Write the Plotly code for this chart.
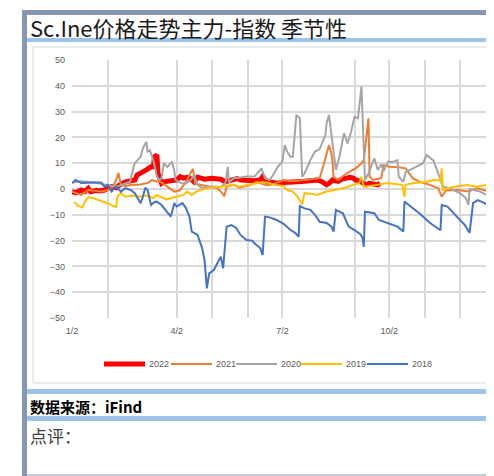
import pandas as pd
import plotly.graph_objects as go

# seasonal chart: day of year (shared x) and value per year
SERIES_NAMES = ["2022", "2021", "2020", "2019", "2018"]
SERIES_COLORS = ["#ff0000", "#ed7d31", "#a5a5a5", "#ffc000", "#4472c4"]
SERIES_WIDTHS = [5, 2, 2, 2, 2]

DAYS_2022 = [2, 5, 10, 13, 16, 18, 23, 26, 30, 33, 36, 40, 43, 48, 53, 56, 58, 61, 66, 70,
             72, 73, 75, 76, 78, 79, 81, 85, 89, 92, 95, 98, 101, 104, 107, 110, 113, 116, 122, 126,
             130, 134, 140, 144, 147, 155, 159, 164, 166, 169, 173, 178, 184, 190, 196, 202, 208, 213, 217, 221,
             224, 226, 231, 234, 238, 241, 244, 246, 250, 252, 255, 258, 262, 265, 267]
VALS_2022 = [-1, -1.5, -0.4, -1, 0.3, -1, -0.5, -0.8, -0.4, 0, 0.9, 0.5, 1.6, 2.8, 3.0, 3.5, 5.4, 6, 7.4, 8.6,
             8.6, 12.5, 13.2, 6, 4, 2.2, 2.8, 3.2, 3.5, 3.5, 4.8, 4.2, 4.5, 4, 2.8, 4.5, 4.2, 3.8, 4.2, 4.0,
             3.8, 2.8, 3.5, 4, 3.5, 3, 3.2, 3.5, 4.8, 3, 2.5, 2.2, 2.5, 2.5, 2.8, 3, 3.2, 3.5, 2.8, 1.6,
             2.5, 3.5, 3, 3.8, 4.2, 4.5, 4.2, 3.5, 3, 2.2, 1.6, 2.2, 2.0, 1.6, 2.3]

DAYS_2021 = [2, 5, 10, 16, 22, 27, 33, 38, 41, 42, 44, 48, 54, 59, 67, 71, 73, 78, 84, 90,
             95, 98, 101, 104, 106, 108, 113, 121, 127, 131, 133, 135, 141, 146, 155, 161, 164, 170, 175, 184,
             190, 196, 202, 209, 215, 218, 220, 223, 225, 226, 227, 231, 238, 246, 251, 253, 257, 258, 261, 268,
             270, 275, 283, 289, 295, 301, 310, 317, 320, 324, 333, 343, 350, 357, 362]
VALS_2021 = [-1, -1.5, -2.3, -0.4, -0.8, -1, -0.4, 1.5, 4.7, 6.2, 1.6, 1.2, 1.6, 1.6, 2.3, 3.5, 3.0, 2.8, 0.9, -1,
             -0.5, 1.6, 3.5, 6.2, 7.8, 2.0, 1.6, 0.8, 0.3, -1.5, -2.8, 0.9, 1.6, 0.5, 1.5, 2.8, 2.2, 1.5, 1.8, 3.5,
             3.0, 3.2, 3.5, 3.8, 4.2, 8.6, 12, 17, 14, 11, 4.8, 3.5, 6, 8, 10, 11.2, 27.4, 4.8, 3.5, 4.2,
             9.3, 8.6, 8.4, 8, 4.2, 2.8, 1.6, 0.3, -3, -0.5, -0.4, -1, 0.3, -0.5, -1.6]

DAYS_2020 = [4, 9, 16, 22, 27, 33, 37, 42, 47, 52, 55, 56, 59, 61, 63, 66, 67, 69, 72, 73,
             75, 77, 79, 81, 84, 87, 88, 90, 91, 96, 100, 104, 107, 110, 114, 120, 125, 130, 134, 136,
             137, 141, 147, 152, 159, 164, 165, 168, 172, 175, 179, 183, 185, 187, 190, 192, 195, 198, 200, 202,
             207, 211, 215, 220, 221, 223, 226, 229, 232, 236, 239, 242, 245, 248, 251, 252, 254, 257, 262, 265,
             268, 270, 274, 278, 282, 283, 287, 289, 293, 299, 304, 307, 310, 313, 317, 321, 327, 336, 341, 343,
             344, 353, 362, 364]
VALS_2020 = [2.5, 3, 2.8, 2.5, 2, 1.5, 1.0, 1.2, 2.0, 2.8, 8.6, 10, 11.5, 12.5, 15.8, 18.3, 14.5, 15, 11, 9.3,
             5, 3.5, 4.2, 10, 8.5, 10, 10.6, 7, 3.5, 2.2, 2.2, 3.5, 5.4, 1.6, 0.3, 0.9, 0.9, 0.9, 2.3, 8.6,
             2.5, 4.2, 4.5, 4.8, 4.8, 7.4, 8, 4.2, 3.5, 5.4, 8.6, 10.6, 17, 14.5, 12.5, 12.5, 28.7, 27.4, 4.8, 6,
             11.2, 14.5, 15.5, 20.9, 25.5, 28.7, 19, 7.4, 12.5, 21.6, 17.7, 22, 28, 27.4, 39.7, 28, 3.5, 6, 11.9, 7.4,
             9.5, 7, 10.6, 10.5, 11.2, 4.8, 2.8, 6.5, 7.4, 8.6, 10, 13.2, 11.9, 11, 6, 0.9, 0.3, -1.7, -3.6, -6.2,
             0, -1, -3, -3.6]

DAYS_2019 = [4, 7, 11, 13, 16, 20, 26, 33, 37, 40, 41, 44, 48, 54, 60, 66, 72, 75, 83, 88,
             92, 98, 101, 105, 109, 118, 130, 141, 146, 155, 164, 170, 177, 184, 187, 192, 196, 200, 202, 207,
             213, 221, 227, 237, 244, 249, 251, 253, 263, 273, 280, 286, 288, 289, 295, 301, 307, 313, 319, 320,
             321, 327, 334, 342, 350, 359, 364]
VALS_2019 = [-5, -6.5, -7.2, -5, -3.2, -3.5, -4.5, -5.5, -6.5, -7, -3, -1.5, -3, -2.5, -3, -2.5, -3.5, -2.3, -4, -3.5,
             -3, -2.3, -1, -2.3, -1, 0.3, 0.9, 1.6, 0.9, 1.6, 2.5, 2.5, 1.6, 1.2, -0.4, -1, -3, -6, -1.6, -1.8,
             -2.3, -1, -0.4, 0.5, 1.6, 2.3, 4.8, 0.9, 1.5, 2.3, 1.9, 1.6, -3, 1.6, 2.2, 2.5, 2.8, 3.5, 3.2, 8,
             -0.4, 0.5, 1.2, 1.5, 0.9, 1.6, 2.4]

DAYS_2018 = [2, 5, 10, 16, 22, 27, 30, 33, 36, 40, 44, 48, 53, 56, 61, 63, 65, 67, 70, 73,
             75, 79, 84, 87, 90, 92, 97, 100, 103, 105, 110, 114, 116, 118, 120, 124, 127, 130, 132, 134,
             135, 139, 143, 147, 152, 157, 159, 164, 166, 168, 172, 178, 184, 190, 194, 197, 198, 202, 207, 211,
             215, 221, 225, 227, 229, 235, 240, 245, 250, 252, 253, 254, 262, 266, 274, 282, 287, 288, 295, 301,
             310, 316, 319, 320, 325, 333, 340, 344, 347, 351, 357, 364]
VALS_2018 = [2.2, 3.5, 2.3, 2.5, 2.5, 2.5, 0.9, 1.6, -1, 0.9, -1, 0.3, -0.5, -1.6, -5.5, -3, 0.5, -0.4, -6.2, -5,
             -4.9, -6.2, -8.8, -10.7, -5.5, -6.8, -5.5, -7.4, -10.7, -16.5, -17.8, -23, -27.5, -38.5, -32.7, -31.4, -28.8, -26.2, -30.7, -18.5,
             -14.6, -14, -15, -17.8, -19.8, -20, -21, -23, -25.6, -10.7, -11, -12, -13.5, -15.9, -17, -18.5, -6.6, -7.5, -8.1, -10,
             -12.7, -13.2, -14.5, -16.5, -8.1, -9.4, -14.6, -15.9, -17.5, -19, -22.4, -8.8, -9.4, -12, -13.2, -14.6, -16.5, -4.9, -7.4, -9.5,
             -13.2, -15, -16, -6.2, -6.8, -10.7, -14, -17, -5.5, -4.3, -5.5, -7.4]

SERIES_DAYS = [DAYS_2022, DAYS_2021, DAYS_2020, DAYS_2019, DAYS_2018]
SERIES_VALS = [VALS_2022, VALS_2021, VALS_2020, VALS_2019, VALS_2018]

GRID_DATES = ["2022-01-02", "2022-02-02", "2022-04-02", "2022-05-02", "2022-06-02",
              "2022-07-02", "2022-09-02", "2022-10-02", "2022-11-02", "2022-12-02"]
GRID_LABELS = ["1/2", "", "4/2", "", "", "7/2", "", "10/2", "", ""]

TITLE = "Sc.Ine价格走势主力-指数 季节性"
SOURCE = "数据来源：iFind"
COMMENT = "点评："

# page body adds an 8px margin, so the figure is 8px smaller than the window
W, H = 486, 468
ML, MR, MT, MB = 64, 0, 52, 158
BORDER = "#8597b3"
BAND = "#9dc3e6"
TEXT_GREY = "#595959"
CJK = "Noto Sans CJK SC"


def px(x):
    # window pixel -> paper x
    return (x - 8 - ML) / (W - ML - MR)


def py(y):
    # window pixel -> paper y
    return (H - MB - (y - 8)) / (H - MT - MB)


def to_dates(days):
    return pd.Timestamp("2022-01-01") + pd.to_timedelta(pd.Series(days) - 1, unit="D")


fig = go.Figure()
for name, color, width, days, vals in zip(SERIES_NAMES, SERIES_COLORS, SERIES_WIDTHS, SERIES_DAYS, SERIES_VALS):
    fig.add_trace(
        go.Scatter(
            x=to_dates(days),
            y=vals,
            mode="lines",
            name=name,
            line={"color": color, "width": width},
            showlegend=False,
        )
    )

shapes = [
    # table borders and bands
    {"type": "rect", "x0": px(22), "x1": px(500), "y0": py(10), "y1": py(15), "fillcolor": BORDER, "line": {"width": 0}},
    {"type": "rect", "x0": px(22), "x1": px(27), "y0": py(10), "y1": py(480), "fillcolor": BORDER, "line": {"width": 0}},
    {"type": "rect", "x0": px(27), "x1": px(500), "y0": py(38), "y1": py(42), "fillcolor": BAND, "line": {"width": 0}},
    {"type": "rect", "x0": px(27), "x1": px(500), "y0": py(389), "y1": py(394), "fillcolor": BAND, "line": {"width": 0}},
    {"type": "rect", "x0": px(27), "x1": px(500), "y0": py(416), "y1": py(421), "fillcolor": BAND, "line": {"width": 0}},
    {"type": "line", "x0": px(27), "x1": px(500), "y0": py(475), "y1": py(475), "line": {"color": BORDER, "width": 1}},
    # chart frame
    {"type": "rect", "x0": px(33), "x1": px(505), "y0": py(47), "y1": py(383), "line": {"color": "#d9d9d9", "width": 1}},
]

annotations = [
    {"text": TITLE, "x": px(28), "y": py(27), "xanchor": "left", "yanchor": "middle",
     "font": {"family": CJK, "size": 22, "color": "#1a1a1a"}},
    {"text": "<b>" + SOURCE + "</b>", "x": px(28), "y": py(406), "xanchor": "left", "yanchor": "middle",
     "font": {"family": CJK, "size": 15, "color": "#000000"}},
    {"text": COMMENT, "x": px(28), "y": py(435), "xanchor": "left", "yanchor": "middle",
     "font": {"family": CJK, "size": 17, "color": "#404040"}},
]

# legend drawn as line samples + labels
legend_line_x = [104, 171, 236, 301, 367]
for name, color, width, lx in zip(SERIES_NAMES, SERIES_COLORS, SERIES_WIDTHS, legend_line_x):
    shapes.append({"type": "line", "x0": px(lx), "x1": px(lx + 41), "y0": py(364), "y1": py(364),
                   "line": {"color": color, "width": width}})
    annotations.append({"text": name, "x": px(lx + 43), "y": py(364), "xanchor": "left", "yanchor": "middle",
                        "font": {"family": "Liberation Sans, Arial", "size": 9, "color": TEXT_GREY}})

for a in annotations:
    a.update({"xref": "paper", "yref": "paper", "showarrow": False})
for s in shapes:
    s.update({"xref": "paper", "yref": "paper"})

fig.update_layout(
    width=W,
    height=H,
    margin={"l": ML, "r": MR, "t": MT, "b": MB},
    paper_bgcolor="#ffffff",
    plot_bgcolor="#ffffff",
    font={"family": "Liberation Sans, Arial", "size": 9, "color": TEXT_GREY},
    shapes=shapes,
    annotations=annotations,
    showlegend=False,
)
fig.update_xaxes(
    type="date",
    range=["2022-01-02", "2022-12-31"],
    tickvals=GRID_DATES,
    ticktext=GRID_LABELS,
    showgrid=True,
    gridcolor="#d9d9d9",
    gridwidth=1.5,
    zeroline=False,
    showline=False,
    ticks="",
    ticklabelstandoff=6,
    tickfont={"size": 9, "color": TEXT_GREY},
)
fig.update_yaxes(
    range=[-50, 50],
    dtick=10,
    showgrid=True,
    gridcolor="#d9d9d9",
    gridwidth=1.5,
    zeroline=False,
    showline=False,
    ticks="",
    ticklabelstandoff=6,
    tickfont={"size": 9, "color": TEXT_GREY},
)

fig.write_html("out.html")
